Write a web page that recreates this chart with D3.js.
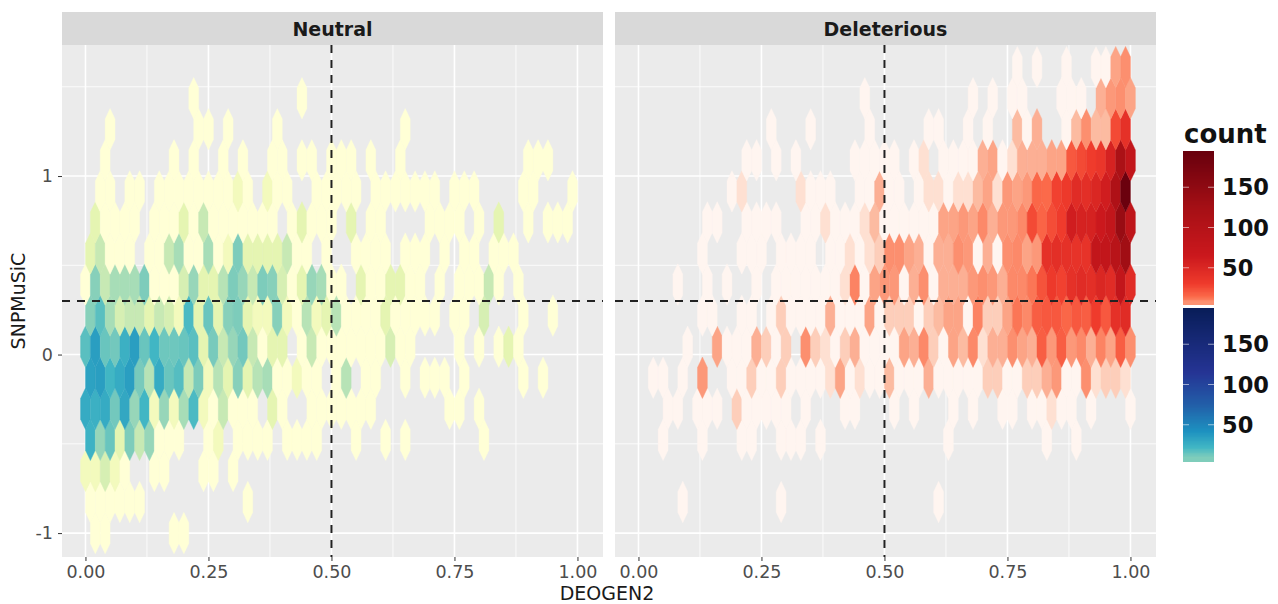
<!DOCTYPE html>
<html>
<head>
<meta charset="utf-8">
<title>DEOGEN2 vs SNPMuSiC</title>
<script src="https://cdn.jsdelivr.net/npm/d3@7"></script>
<style>
  html, body { margin: 0; background: #fff; }
  svg { display: block; font-family: "DejaVu Sans", sans-serif; }
</style>
</head>
<body>
<svg width="1278" height="604"></svg>
<script>
// each row is one hex row (bottom to top), keys are the column number of the bin
const neutralRows = [
  {1:1,2:1,9:1,10:1},
  {0:1,1:1,2:1,3:1,4:1,5:1,16:1},
  {0:2,1:2,2:4,3:2,4:1,7:1,8:1,12:1,13:1,15:1},
  {0:24,1:8,2:14,3:3,4:10,5:5,6:8,7:1,8:1,9:1,12:1,13:2,15:1,16:1,17:1,18:1,20:1,21:1,22:1,23:1,27:1,30:1,32:1,40:1},
  {0:28,1:25,2:28,3:12,4:30,5:8,6:22,7:2,8:8,9:2,10:7,11:20,12:2,13:1,14:5,15:1,16:1,17:1,19:3,20:1,23:1,24:1,25:1,26:1,27:1,28:1,29:1,37:1,38:1,40:1},
  {0:33,1:35,2:22,3:28,4:35,5:11,6:6,7:28,8:14,9:18,10:5,11:10,12:2,13:6,14:3,15:9,16:3,17:6,18:7,19:1,20:1,21:2,22:1,23:1,25:1,26:6,28:1,29:1,32:1,34:1,35:1,36:1,38:1,44:1,46:1},
  {0:17,1:35,2:14,3:12,4:25,5:35,6:14,7:22,8:13,9:13,10:14,11:17,12:3,13:11,14:5,15:8,16:12,17:5,18:1,19:3,20:3,22:1,23:5,24:1,25:1,26:1,27:1,28:1,29:1,30:1,31:4,32:1,33:1,38:1,40:1,42:1,43:3,44:1},
  {0:9,1:17,2:7,3:4,4:5,5:5,6:3,7:5,8:4,9:2,10:20,11:3,12:14,13:3,14:9,15:10,16:3,17:2,18:2,19:9,20:2,21:1,22:6,23:2,24:3,25:6,26:1,27:1,28:1,29:1,30:3,31:1,32:1,33:1,34:1,35:1,37:1,38:1,40:4,44:1,47:1},
  {0:1,1:9,2:5,3:7,4:7,5:7,6:10,7:1,8:1,9:1,10:4,11:8,12:3,13:3,14:6,15:10,16:8,17:5,18:10,19:9,20:4,21:1,22:3,23:8,24:7,25:1,26:1,28:3,29:1,30:1,31:3,32:3,33:1,34:1,36:1,38:1,39:1,40:1,41:5,42:1,44:1},
  {0:3,1:5,2:1,3:1,4:1,6:1,7:1,8:5,9:7,10:1,11:1,12:7,13:1,14:2,15:10,16:3,17:3,18:3,19:3,20:5,21:1,22:1,24:1,27:1,28:1,29:1,30:1,32:1,33:1,34:1,36:1,38:1,39:1,41:1,42:1,43:1},
  {1:3,2:1,3:1,4:1,5:1,7:1,8:1,9:1,10:3,11:1,12:5,13:1,14:1,15:1,16:1,17:1,18:1,19:1,21:1,22:3,23:1,24:1,25:1,27:3,29:1,30:1,35:1,36:1,37:1,38:1,40:1,42:3,45:1,47:1,48:1,49:1},
  {1:1,2:1,4:1,5:1,7:1,8:1,9:1,10:1,11:1,12:1,13:1,14:1,15:2,16:1,18:2,19:1,20:1,23:1,24:1,25:1,26:1,27:1,29:1,30:1,31:1,32:1,33:1,34:1,35:1,37:1,38:1,39:1,44:1,45:1,49:1},
  {2:1,9:1,11:1,14:1,16:1,19:1,20:1,22:1,23:1,25:1,26:1,27:1,29:1,32:1,45:1,46:1,47:1},
  {2:1,11:1,12:1,14:1,19:1,32:1},
  {11:1,22:1},
  {}
];

const deleteriousRows = [
  {},
  {4:1,14:1,30:1},
  {},
  {2:1,6:1,10:1,11:1,14:1,15:1,16:1,18:1,31:1,41:1,44:1},
  {3:1,4:1,6:1,7:1,8:1,10:3,11:1,12:1,13:1,14:1,15:1,17:1,21:1,22:1,26:1,28:1,32:1,34:1,37:1,38:1,40:1,41:1,42:2,43:1,44:1,46:1,50:1},
  {1:1,2:1,4:1,6:7,9:1,10:1,11:3,12:1,13:1,14:3,15:1,16:1,17:1,18:1,19:2,20:6,21:1,22:2,23:1,24:1,25:4,26:1,27:1,28:1,29:5,30:1,31:1,32:1,33:1,34:1,35:3,36:3,37:1,38:1,39:3,40:3,41:5,42:7,43:1,44:1,45:8,46:2,47:3,48:3,49:2},
  {5:1,8:6,9:1,10:1,11:1,12:5,13:3,14:1,15:3,17:8,18:3,19:2,20:1,21:3,22:5,23:1,24:1,25:1,26:1,27:6,28:5,29:9,30:3,31:1,32:6,33:4,34:9,35:2,36:5,37:5,38:8,39:6,40:5,41:18,42:7,43:18,44:7,45:9,46:5,47:10,48:6,49:18,50:8},
  {6:1,7:1,10:1,11:1,13:1,14:3,15:1,16:1,17:1,18:1,19:5,20:1,21:1,22:1,23:6,24:1,25:3,26:3,27:3,28:1,29:3,30:4,31:6,32:6,33:1,34:10,35:3,36:3,37:6,38:12,39:9,40:18,41:20,42:20,43:15,44:20,45:18,46:30,47:20,48:40,49:45},
  {4:1,7:1,9:1,12:1,14:1,15:1,16:1,17:1,18:1,19:1,20:1,21:2,22:10,23:1,24:6,25:7,26:7,27:1,28:5,29:8,30:1,31:5,32:5,33:5,34:7,35:8,36:7,37:5,38:9,39:9,40:12,41:22,42:32,43:28,44:40,45:45,46:42,47:50,48:45,49:80,50:45},
  {6:1,10:1,11:1,12:1,14:1,15:1,16:1,17:1,19:1,20:1,21:2,22:1,23:2,24:3,25:8,26:8,27:6,28:5,29:1,30:5,31:5,32:8,33:7,34:1,35:5,36:1,37:8,38:9,39:6,40:7,41:40,42:42,43:40,44:38,45:38,46:80,47:80,48:95,49:130},
  {7:1,8:1,11:1,12:1,13:1,14:1,17:1,18:1,19:2,20:1,21:1,22:1,23:2,24:4,25:1,26:1,27:1,28:1,29:1,30:1,31:6,32:6,33:7,34:6,35:9,36:5,37:7,38:7,39:9,40:25,41:16,42:24,43:30,44:60,45:55,46:55,47:65,48:80,49:140,50:85},
  {9:1,10:2,16:2,17:1,18:1,19:1,22:1,23:1,24:5,25:1,26:1,28:1,29:2,30:2,31:1,32:2,33:2,34:4,35:6,36:2,37:7,38:6,39:7,40:15,41:14,42:28,43:32,44:45,45:42,46:50,47:60,48:110,49:190},
  {11:1,12:1,14:1,16:1,22:1,23:1,24:1,25:1,26:1,28:1,29:2,31:1,32:1,33:1,34:1,35:5,36:6,37:1,38:2,39:5,40:5,41:5,42:6,43:6,44:20,45:25,46:30,47:35,48:55,49:115,50:80},
  {13:1,17:1,23:1,29:1,30:1,33:1,35:1,38:4,39:1,40:5,43:1,44:4,45:8,46:4,47:4,48:25,49:40},
  {23:1,34:1,36:1,38:1,39:1,43:1,44:1,45:1,47:5,48:7,49:8,50:6},
  {38:1,40:1,43:1,46:1,47:1,48:6,49:8}
];

const panelNames = ["Neutral", "Deleterious"];
const xTicks = [0, 0.25, 0.5, 0.75, 1];
const xMinorTicks = [0.125, 0.375, 0.625, 0.875];
const yTicks = [-1, 0, 1];
const yMinorTicks = [-0.5, 0.5, 1.5];
const legendTicks = [50, 100, 150];

const binWidth = 0.02;
const rowHeight = 0.174;
const xCut = 0.5;
const yCut = 0.3;

const blueStops = [1, 2.5, 5, 9.5, 22, 42, 75, 115, 195];
const blueColors = ["#ffffd6", "#edf8b1", "#c7e9b4", "#7fcdbb", "#41b6c4", "#1d91c0", "#225ea8", "#253494", "#081d58"];
const redStops = [1, 2, 4, 7.5, 14, 30, 65, 125, 195];
const redColors = ["#fff5f0", "#fee0d2", "#fcbba1", "#fc9272", "#fb6a4a", "#ef3b2c", "#cb181d", "#a50f15", "#67000d"];

const svg = d3.select("svg");

const panelTop = 45,
  panelBottom = 557,
  stripTop = 12,
  panelWidth = 541;

const blue = d3.scaleLinear().domain(blueStops).range(blueColors).clamp(true);
const red = d3.scaleLinear().domain(redStops).range(redColors).clamp(true);

const panels = [
  { left: 62, rows: neutralRows, color: blue },
  { left: 615, rows: deleteriousRows, color: red }
];

const y = d3.scaleLinear().domain([-1.134, 1.734]).range([panelBottom, panelTop]);

// hex outline in data units, tall because the two axes differ so much
const hexPoints = [
  [0, 2 / 3],
  [0.5, 1 / 3],
  [0.5, -1 / 3],
  [0, -2 / 3],
  [-0.5, -1 / 3],
  [-0.5, 1 / 3]
].map((p) => [p[0] * binWidth, p[1] * rowHeight]);

panels.forEach((p, i) => {
  const x = d3
    .scaleLinear()
    .domain([-0.0477, 1.0519])
    .range([p.left, p.left + panelWidth]);

  const g = svg.append("g");

  // strip
  g.append("rect")
    .attr("x", p.left)
    .attr("y", stripTop)
    .attr("width", panelWidth)
    .attr("height", panelTop - stripTop)
    .attr("fill", "#d9d9d9");

  g.append("text")
    .attr("x", p.left + panelWidth / 2)
    .attr("y", 36)
    .attr("text-anchor", "middle")
    .attr("font-size", 19)
    .attr("font-weight", "bold")
    .attr("fill", "#1a1a1a")
    .text(panelNames[i]);

  // background and grid
  g.append("rect")
    .attr("x", p.left)
    .attr("y", panelTop)
    .attr("width", panelWidth)
    .attr("height", panelBottom - panelTop)
    .attr("fill", "#ebebeb");

  const grid = (values, width) => {
    g.selectAll(null)
      .data(values)
      .enter()
      .append("line")
      .attr("x1", (d) => x(d))
      .attr("x2", (d) => x(d))
      .attr("y1", panelTop)
      .attr("y2", panelBottom)
      .attr("stroke", "#fff")
      .attr("stroke-width", width);
  };
  const gridY = (values, width) => {
    g.selectAll(null)
      .data(values)
      .enter()
      .append("line")
      .attr("x1", p.left)
      .attr("x2", p.left + panelWidth)
      .attr("y1", (d) => y(d))
      .attr("y2", (d) => y(d))
      .attr("stroke", "#fff")
      .attr("stroke-width", width);
  };
  grid(xMinorTicks, 0.8);
  gridY(yMinorTicks, 0.8);
  grid(xTicks, 1.6);
  gridY(yTicks, 1.6);

  // hex cells
  const cells = [];
  p.rows.forEach((row, k) => {
    Object.keys(row).forEach((col) => {
      cells.push({
        x: +col * binWidth + (k % 2 ? binWidth / 2 : 0),
        y: -1 + k * rowHeight,
        count: row[col]
      });
    });
  });

  const hexLine = d3
    .line()
    .x((d) => x(d[0]))
    .y((d) => y(d[1]));

  g.append("g")
    .selectAll("path")
    .data(cells)
    .enter()
    .append("path")
    .attr("d", (d) => hexLine(hexPoints.map((h) => [d.x + h[0], d.y + h[1]])) + "Z")
    .attr("fill", (d) => p.color(d.count))
    .attr("stroke", (d) => p.color(d.count))
    .attr("stroke-width", 0.4);

  // cut-off lines
  g.append("line")
    .attr("x1", x(xCut))
    .attr("x2", x(xCut))
    .attr("y1", panelTop)
    .attr("y2", panelBottom)
    .attr("stroke", "#222")
    .attr("stroke-width", 2)
    .attr("stroke-dasharray", "8 7");

  g.append("line")
    .attr("x1", p.left)
    .attr("x2", p.left + panelWidth)
    .attr("y1", y(yCut))
    .attr("y2", y(yCut))
    .attr("stroke", "#222")
    .attr("stroke-width", 2)
    .attr("stroke-dasharray", "8 7");

  // axes
  const xAxis = g
    .append("g")
    .attr("transform", `translate(0,${panelBottom})`)
    .call(d3.axisBottom(x).tickValues(xTicks).tickFormat(d3.format(".2f")).tickSize(4).tickPadding(5));
  xAxis.select(".domain").remove();
  xAxis.selectAll("line").attr("stroke", "#333");
  xAxis.selectAll("text").attr("font-size", 17.5).attr("fill", "#4d4d4d").attr("font-family", "DejaVu Sans");

  if (i === 0) {
    const yAxis = g
      .append("g")
      .attr("transform", `translate(${p.left},0)`)
      .call(d3.axisLeft(y).tickValues(yTicks).tickFormat((d) => String(d)).tickSize(4).tickPadding(5));
    yAxis.select(".domain").remove();
    yAxis.selectAll("line").attr("stroke", "#333");
    yAxis.selectAll("text").attr("font-size", 17.5).attr("fill", "#4d4d4d").attr("font-family", "DejaVu Sans");
  }
});

// axis titles
svg
  .append("text")
  .attr("x", 607)
  .attr("y", 599.5)
  .attr("text-anchor", "middle")
  .attr("font-size", 19)
  .attr("fill", "#1a1a1a")
  .text("DEOGEN2");

svg
  .append("text")
  .attr("transform", "translate(25,301) rotate(-90)")
  .attr("text-anchor", "middle")
  .attr("font-size", 19)
  .attr("fill", "#1a1a1a")
  .text("SNPMuSiC");

// legend
svg
  .append("text")
  .attr("x", 1184)
  .attr("y", 143)
  .attr("font-size", 26)
  .attr("font-weight", "bold")
  .attr("fill", "#111")
  .text("count");

const legendBars = [
  { top: 151, bottom: 304, color: red, floor: 7.5 },
  { top: 308, bottom: 461, color: blue, floor: 9.5 }
];

legendBars.forEach((b) => {
  const scale = d3.scaleLinear().domain([5, 195]).range([b.bottom, b.top]);
  const g = svg.append("g");

  g.selectAll("rect")
    .data(d3.range(5, 195, 1))
    .enter()
    .append("rect")
    .attr("x", 1183)
    .attr("y", (d) => scale(d + 1))
    .attr("width", 31)
    .attr("height", (d) => scale(d) - scale(d + 1) + 0.5)
    .attr("fill", (d) => b.color(Math.max(d, b.floor)))
    .attr("shape-rendering", "crispEdges");

  legendTicks.forEach((t) => {
    [[1183, 1189], [1208, 1214]].forEach((seg) => {
      g.append("line")
        .attr("x1", seg[0])
        .attr("x2", seg[1])
        .attr("y1", scale(t))
        .attr("y2", scale(t))
        .attr("stroke", "#fff")
        .attr("stroke-width", 0.8)
        .attr("opacity", 0.7);
    });
    g.append("text")
      .attr("x", 1222)
      .attr("y", scale(t))
      .attr("dy", "0.36em")
      .attr("font-size", 22.5)
      .attr("font-weight", "bold")
      .attr("fill", "#111")
      .text(t);
  });
});
</script>
</body>
</html>
